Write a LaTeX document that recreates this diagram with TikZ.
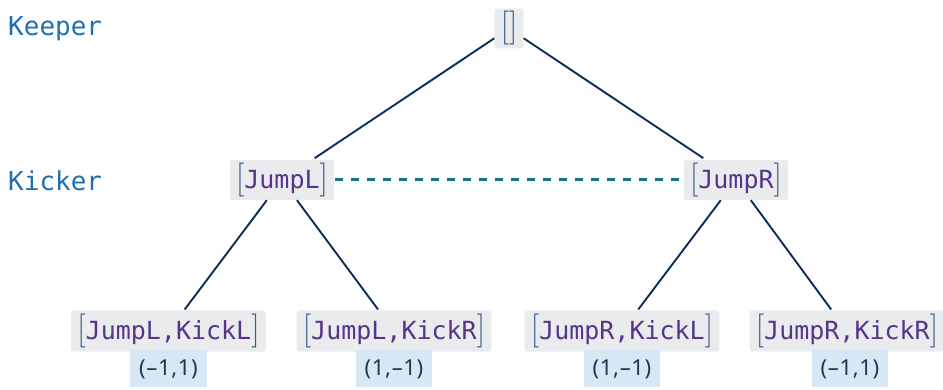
\documentclass[tikz,border=0pt]{standalone}
\usepackage{fontspec}
\setmonofont{DejaVu Sans Mono}
\newfontfamily\payofffont[LetterSpace=3]{Noto Sans}
\definecolor{rolecol}{HTML}{1F6FB2}
\definecolor{movecol}{HTML}{54358A}
\definecolor{brkcol}{HTML}{3D5F8A}
\definecolor{edgecol}{HTML}{0B2D57}
\definecolor{infocol}{HTML}{137A7A}
\definecolor{boxfill}{HTML}{E9EBEC}
\definecolor{payfill}{HTML}{D7E7F3}
\definecolor{paytext}{HTML}{1D3557}
% history brackets in a thin serif
\newcommand\hopen{{\rmfamily\fontsize{34}{34}\selectfont\color{brkcol}[}}
\newcommand\hclose{{\rmfamily\fontsize{34}{34}\selectfont\color{brkcol}]}}
\newcommand\hist[1]{\hopen{\ttfamily\fontsize{25}{25}\selectfont\color{movecol}#1}\hclose}
\begin{document}
\begin{tikzpicture}[x=1pt,y=-1pt,
  histbox/.style={fill=boxfill, rounded corners=2.5pt, inner xsep=6pt, inner ysep=0pt,
    minimum height=40pt, anchor=center},
  paybox/.style={fill=payfill, inner xsep=9pt, inner ysep=0pt, minimum height=37pt,
    font=\payofffont\fontsize{22}{22}\selectfont, text=paytext, anchor=north},
  rolelabel/.style={anchor=west, inner sep=0pt, text=rolecol,
    font=\ttfamily\fontsize{26}{26}\selectfont},
  edge/.style={draw=edgecol, line width=1.9pt},
  infoset/.style={draw=infocol, line width=3pt, dash pattern=on 8pt off 8pt}
]
\useasboundingbox (0,0) rectangle (943,390);

% player labels
\node[rolelabel] (keeper) at (8,28.5) {Keeper};
\node[rolelabel] (kicker) at (8,181) {Kicker};

% game tree nodes
\node[histbox] (root) at (509,28.5) {\hist{}};
\node[histbox] (jl) at (282,180) {\hist{JumpL}};
\node[histbox] (jr) at (736,180) {\hist{JumpR}};
\node[histbox, minimum height=41pt] (ll) at (168.5,331) {\hist{JumpL,KickL}};
\node[histbox, minimum height=41pt] (lr) at (394,331) {\hist{JumpL,KickR}};
\node[histbox, minimum height=41pt] (rl) at (622,331) {\hist{JumpR,KickL}};
\node[histbox, minimum height=41pt] (rr) at (847,331) {\hist{JumpR,KickR}};

% payoffs
\node[paybox] (pll) at ([yshift=1.5pt]ll.south) {(–1,1)};
\node[paybox] (plr) at ([yshift=1.5pt]lr.south) {(1,–1)};
\node[paybox] (prl) at ([yshift=1.5pt]rl.south) {(1,–1)};
\node[paybox] (prr) at ([xshift=3pt,yshift=1.5pt]rr.south) {(–1,1)};

% moves
\draw[edge, shorten >=3pt] (root) -- (jl);
\draw[edge, shorten >=3pt] (root) -- (jr);
\draw[edge, shorten >=1pt] (jl) -- (ll);
\draw[edge, shorten >=1pt] (jl) -- (lr);
\draw[edge, shorten >=1pt] (jr) -- (rl);
\draw[edge, shorten >=1pt] (jr) -- (rr);

% information set of the kicker
\draw[infoset, shorten <=1pt] (jl.east) -- (jr.west);
\end{tikzpicture}
\end{document}
